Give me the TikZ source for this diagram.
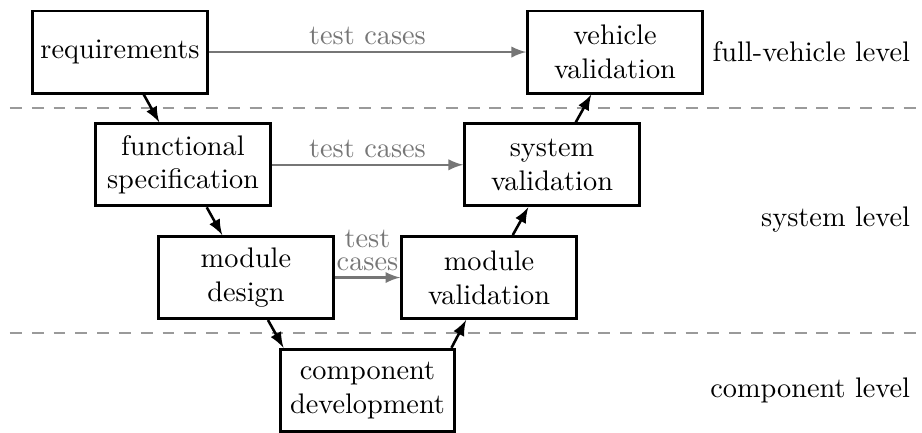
\documentclass[tikz,border=0pt]{standalone}
\usetikzlibrary{arrows, positioning}
\definecolor{levelgray}{HTML}{9A9A9A}
\definecolor{testgray}{HTML}{767676}

\begin{document}
\begin{tikzpicture}[node distance=1.4cm]
\tikzstyle{stage} = [rectangle, minimum width=2.17cm, minimum height=1.02cm, align=center, draw=black, line width=1pt, inner sep=1pt]
\tikzstyle{flow} = [-latex, line width=0.9pt, draw=black]
\tikzstyle{testflow} = [-latex, line width=0.8pt, draw=testgray]
\tikzstyle{testlabel} = [above, inner sep=2pt, text=testgray, align=center]
\tikzstyle{level} = [anchor=east]
\tikzstyle{divider} = [dash pattern=on 4.2pt off 3.5pt, line width=1pt, draw=levelgray]

\useasboundingbox (-1.49,0.646) rectangle (9.958,-4.718);

% level separators
\draw[divider] (-1.366,-0.695) -- (9.958,-0.695);
\draw[divider] (-1.366,-3.489) -- (9.958,-3.489);

\node (req) [stage] {requirements};
\node (func) [stage, below of=req, xshift=0.782cm] {functional\\specification};
\node (mdes) [stage, below of=func, xshift=0.782cm] {module\\design};
\node (comp) [stage, below of=mdes, xshift=1.509cm] {component\\development};
\node (mval) [stage, above of=comp, xshift=1.509cm] {module\\validation};
\node (sval) [stage, above of=mval, xshift=0.782cm] {system\\validation};
\node (vval) [stage, above of=sval, xshift=0.782cm] {vehicle\\validation};

\node (fulllvl) [level] at (9.934,0) {full-vehicle level};
\node (syslvl) [level] at (9.934,-2.086) {system level};
\node (complvl) [level] at (9.934,-4.2) {component level};

\draw[flow] (req) -- (func);
\draw[flow] (func) -- (mdes);
\draw[flow] ([xshift=0.273cm]mdes.south) -- ([xshift=-1.043cm]comp.north);
\draw[flow] ([xshift=1.043cm]comp.north) -- ([xshift=-0.285cm]mval.south);
\draw[flow] (mval) -- (sval);
\draw[flow] (sval) -- (vval);

\draw[testflow] (req) -- node[testlabel] {test cases} (vval);
\draw[testflow] (func) -- node[testlabel] {test cases} (sval);
\draw[testflow] (mdes) -- node[testlabel] {test\\[-4pt]cases} (mval);

\end{tikzpicture}
\end{document}
